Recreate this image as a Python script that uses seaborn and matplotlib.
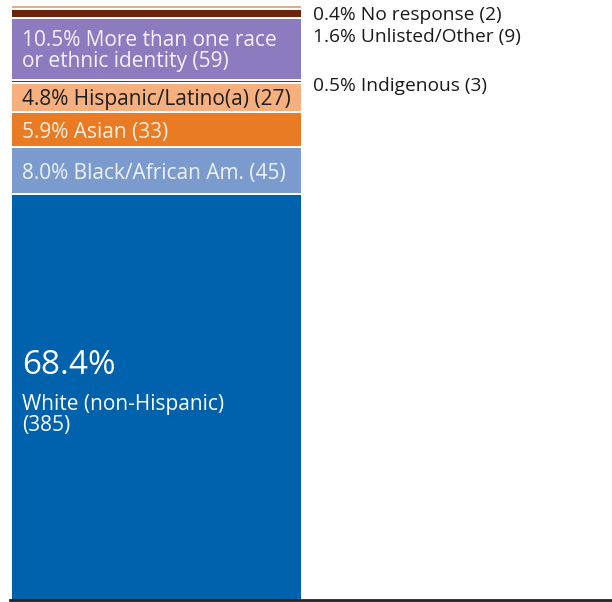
import matplotlib
matplotlib.use("Agg")
import matplotlib.pyplot as plt
import seaborn as sns
import numpy as np

# Survey respondents by race / ethnicity, listed bottom to top of the stacked bar
groups = ["White (non-Hispanic)", "Black/African Am.", "Asian", "Hispanic/Latino(a)",
          "Indigenous", "More than one race or ethnic identity", "Unlisted/Other", "No response"]
counts = [385, 45, 33, 27, 3, 59, 9, 2]
percents = [68.4, 8.0, 5.9, 4.8, 0.5, 10.5, 1.6, 0.4]
colors = ["#0061ad", "#7b9bcf", "#e97b24", "#f6b07f", "#4b3491", "#8c7bbf", "#6d220c", "#e2ab8c"]

sns.set_theme(style="white")
plt.rcParams["font.family"] = ["Open Sans", "DejaVu Sans"]

W, H = 612, 602
fig = plt.figure(figsize=(W / 100, H / 100), dpi=100)
ax = fig.add_axes([10 / W, 2 / H, 602 / W, 594 / H])

total = sum(counts)
tops = np.cumsum(counts)
bottoms = tops - np.array(counts)

# Draw cumulative bars from the tallest down so each segment covers the one beneath
for i in range(len(groups) - 1, -1, -1):
    sns.barplot(x=[0], y=[tops[i]], color=colors[i], saturation=1, width=0.8,
                linewidth=0, ax=ax, native_scale=True)

# thin white separators between stacked segments
ax.hlines(tops[:-1], -0.4, 0.4, color="white", linewidth=1.4)

ax.set_xlim(-0.4055, 1.262)
ax.set_ylim(0, total + 0.4)
ax.set_xticks([])
ax.set_yticks([])
ax.set_xlabel("")
ax.set_ylabel("")
for side in ["top", "right", "left"]:
    ax.spines[side].set_visible(False)
ax.spines["bottom"].set_color("#222222")
ax.spines["bottom"].set_linewidth(2)

mids = (bottoms + tops) / 2
x_in = -0.372
x_out = 0.434

def label_in(i, text, color, size=15, dy=3, ls=1.0):
    ax.annotate(text, xy=(x_in, mids[i]), xytext=(0, -dy), textcoords="offset pixels",
                ha="left", va="center", color=color, fontsize=size, linespacing=ls)

def label_out(i, text, dy):
    ax.annotate(text, xy=(x_out, mids[i]), xytext=(0, -dy), textcoords="offset pixels",
                ha="left", va="center", color="#1a1a1a", fontsize=13.8)

# White (non-Hispanic): large percentage with name and count underneath
label_in(0, f"{percents[0]:.1f}%", "white", size=24, dy=-32)
label_in(0, f"White (non-Hispanic)\n({counts[0]})", "white", size=15, dy=18, ls=1.0)
label_in(1, f"{percents[1]:.1f}% {groups[1]} ({counts[1]})", "#eef2fb")
label_in(2, f"{percents[2]:.1f}% {groups[2]} ({counts[2]})", "#fdf0e4")
label_in(3, f"{percents[3]:.1f}% {groups[3]} ({counts[3]})", "#1e1e1e", dy=2)
label_in(5, f"{percents[5]:.1f}% More than one race\nor ethnic identity ({counts[5]})", "#f5f2ff",
         dy=2)

label_out(7, f"{percents[7]:.1f}% {groups[7]} ({counts[7]})", 8)
label_out(6, f"{percents[6]:.1f}% {groups[6]} ({counts[6]})", 24)
label_out(4, f"{percents[4]:.1f}% {groups[4]} ({counts[4]})", 4)

fig.savefig("out.png", dpi=100)
